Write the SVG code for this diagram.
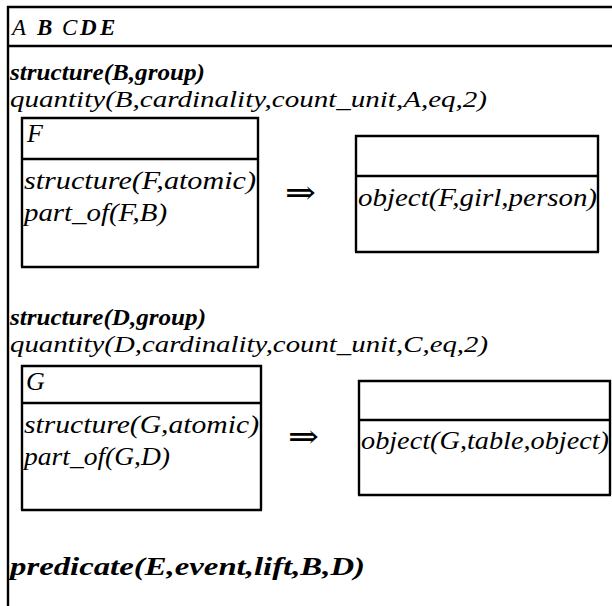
<svg xmlns="http://www.w3.org/2000/svg" width="612" height="606" viewBox="0 0 612 606">
<style>
.ln{stroke:#000;stroke-width:2.4;fill:none}
text{font-family:'Liberation Serif','Times New Roman',Times,serif;font-style:italic;font-size:26px;fill:#000}
.b{font-weight:bold}
.s{font-size:24px}
.h{font-size:23px}
.ar{font-family:'DejaVu Serif','Liberation Serif',serif;font-style:normal;font-size:34px}
</style>
<rect width="612" height="606" fill="#fff"/>
<g id="frame">
<line class="ln" x1="7" y1="7" x2="612" y2="7"/>
<line class="ln" x1="8" y1="6" x2="8" y2="606"/>
<line class="ln" x1="7" y1="46" x2="612" y2="46"/>
<text class="h" x="12" y="35">A</text>
<text class="h b" x="37" y="35">B</text>
<text class="h" x="62" y="35">C</text>
<text class="h b" x="80" y="35">D</text>
<text class="h b" x="100" y="35">E</text>
</g>
<g id="groupB">
<text class="s b" x="10" y="80" textLength="195" lengthAdjust="spacingAndGlyphs">structure(B,group)</text>
<text class="s" x="10" y="106.5" textLength="477" lengthAdjust="spacingAndGlyphs">quantity(B,cardinality,count_unit,A,eq,2)</text>
</g>
<g id="boxF">
<path class="ln" d="M22,267 V118 H258 V267 M22,159 H258 M21,267 H259"/>
<text x="27" y="142">F</text>
<text x="24" y="189" textLength="232" lengthAdjust="spacingAndGlyphs">structure(F,atomic)</text>
<text x="24" y="221" textLength="143" lengthAdjust="spacingAndGlyphs">part_of(F,B)</text>
</g>
<g id="boxF2">
<path class="ln" d="M356,252 V136 H598 V252 M356,176 H598 M355,252 H599"/>
<text x="358" y="206" textLength="239" lengthAdjust="spacingAndGlyphs">object(F,girl,person)</text>
</g>
<g id="groupD">
<text class="s b" x="10" y="325" textLength="196" lengthAdjust="spacingAndGlyphs">structure(D,group)</text>
<text class="s" x="10" y="351.5" textLength="478" lengthAdjust="spacingAndGlyphs">quantity(D,cardinality,count_unit,C,eq,2)</text>
</g>
<g id="boxG">
<path class="ln" d="M22,510 V366 H261 V510 M22,403 H261 M21,510 H262"/>
<text x="26" y="390">G</text>
<text x="24" y="433" textLength="235" lengthAdjust="spacingAndGlyphs">structure(G,atomic)</text>
<text x="24" y="465" textLength="146" lengthAdjust="spacingAndGlyphs">part_of(G,D)</text>
</g>
<g id="boxG2">
<path class="ln" d="M359,495 V381 H610 V495 M359,420 H610 M358,495 H611"/>
<text x="361" y="449" textLength="248" lengthAdjust="spacingAndGlyphs">object(G,table,object)</text>
</g>
<g id="predicate">
<text class="b" x="10" y="575" textLength="355" lengthAdjust="spacingAndGlyphs">predicate(E,event,lift,B,D)</text>
</g>
<g id="connectors">
<text class="ar" x="285" y="204" textLength="31" lengthAdjust="spacingAndGlyphs">⇒</text>
<text class="ar" x="288" y="448" textLength="31" lengthAdjust="spacingAndGlyphs">⇒</text>
</g>
</svg>
